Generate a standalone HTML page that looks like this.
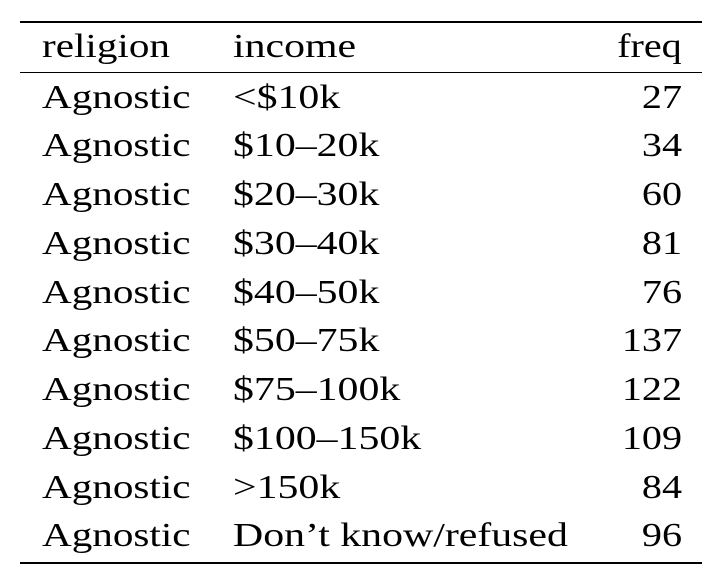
<!DOCTYPE html>
<html>
<head>
<meta charset="utf-8">
<style>
  html, body { margin: 0; padding: 0; background: #fff; }
  body { width: 722px; height: 576px; position: relative; overflow: hidden;
         font-family: "Liberation Serif", "DejaVu Serif", serif; color: #000; }
  .rule { position: absolute; left: 20px; width: 682px; background: #000; }
  .row { position: absolute; left: 0; width: 722px; height: 49px; line-height: 49px; font-size: 34px; }
  .c1, .c2, .c3 { position: absolute; display: inline-block; white-space: nowrap; }
  .c1 { left: 42px; transform: scaleX(1.21); transform-origin: left center; }
  .c2 { left: 233px; transform: scaleX(1.23); transform-origin: left center; }
  .c3 { right: 40px; text-align: right; transform: scaleX(1.18); transform-origin: right center; }
</style>
</head>
<body>
<div>
  <div class="rule" style="top:21px;height:2px;"></div>
  <div class="row" style="top:22px;">
    <span class="c1">religion</span>
    <span class="c2">income</span>
    <span class="c3">freq</span>
  </div>
  <div class="rule" style="top:72px;height:1px;"></div>
  <div id="rows"></div>
  <div class="rule" style="top:562px;height:2px;"></div>
</div>
<script>
const religions = ["Agnostic","Agnostic","Agnostic","Agnostic","Agnostic","Agnostic","Agnostic","Agnostic","Agnostic","Agnostic"];
const incomes = ["<$10k","$10–20k","$20–30k","$30–40k","$40–50k","$50–75k","$75–100k","$100–150k",">150k","Don’t know/refused"];
const freqs = [27,34,60,81,76,137,122,109,84,96];
const container = document.getElementById('rows');
for (let i = 0; i < freqs.length; i++) {
  const r = document.createElement('div');
  r.className = 'row';
  r.style.top = (72.5 + i * 48.75) + 'px';
  
  
  const a = document.createElement('span'); a.className = 'c1'; a.textContent = religions[i];
  
  
  const b = document.createElement('span'); b.className = 'c2'; b.textContent = incomes[i];
  
  
  const c = document.createElement('span'); c.className = 'c3'; c.textContent = freqs[i];
  
  
  r.appendChild(a); r.appendChild(b); r.appendChild(c);
  container.appendChild(r);
}
</script>
</body>
</html>
